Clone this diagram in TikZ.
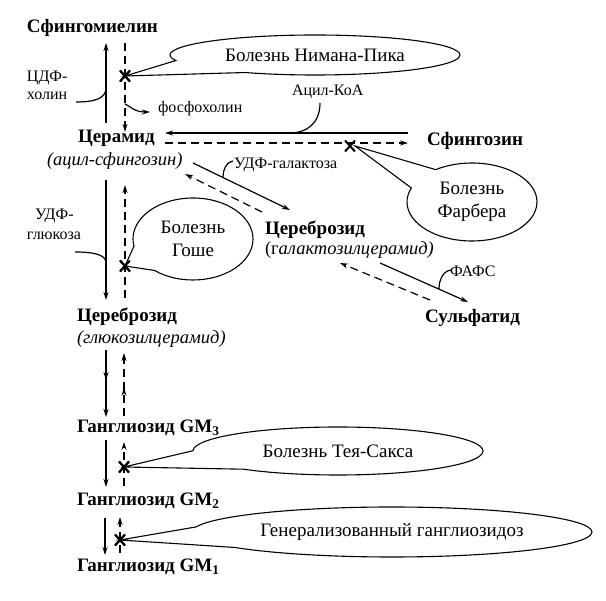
\documentclass[tikz,border=0pt]{standalone}
\usepackage{fontspec}
\setmainfont{Liberation Serif}
\usetikzlibrary{arrows.meta,shapes.callouts,shapes.misc,decorations.markings}
\begin{document}
\begin{tikzpicture}[x=1pt,y=-1pt,
  every node/.style={inner sep=0pt, outer sep=0pt},
  lab/.style={anchor=base west, font=\fontsize{19}{22}\selectfont\bfseries},
  sub/.style={anchor=base west, font=\fontsize{18.5}{22}\selectfont\itshape},
  small/.style={anchor=base west, font=\fontsize{16}{19}\selectfont},
  ln/.style={line width=1.2pt},
  arr/.style={ln, -{Stealth[length=8pt,width=5pt]}},
  darr/.style={arr, dash pattern=on 8pt off 5pt},
  midarrow/.style={postaction={decorate}, decoration={markings, mark=at position #1 with {\arrow{Stealth[length=8pt,width=5pt]}}}},
  xmk/.style={draw, cross out, line width=2pt, minimum width=10pt, minimum height=11pt},
  bubble/.style={ellipse callout, draw, fill=white, line width=1.1pt, font=\fontsize{19}{23}\selectfont, align=center, inner sep=0pt},
]
\fill[white] (0,0) rectangle (606,601);
\useasboundingbox (0,0) rectangle (606,601);

% labels
\node[lab] (sm) at (27,33) {Сфингомиелин};
\node[small] (cdf1) at (27,82) {ЦДФ-};
\node[small] (cdf2) at (27,100) {холин};
\node[small] (fph) at (158,113) {фосфохолин};
\node[small] (acyl) at (292,96) {Ацил-КоА};
\node[lab] (cer) at (78,143) {Церамид};
\node[sub] (cer2) at (47,166) {(ацил-сфингозин)};
\node[lab] (sph) at (427,146) {Сфингозин};
\node[small] (udpgal) at (234,169) {УДФ-галактоза};
\node[small] (udp1) at (35,220) {УДФ-};
\node[small] (udp2) at (27,240) {глюкоза};
\node[lab] (cbg) at (265,235) {Цереброзид};
\node[sub] (cbg2) at (265,255) {{\upshape(г}алактозилцерамид)};
\node[small] (paps) at (450,277) {ФАФС};
\node[lab] (sulf) at (425,323) {Сульфатид};
\node[lab] (cbl) at (77,322) {Цереброзид};
\node[sub] (cbl2) at (77,344) {(глюкозилцерамид)};
\node[lab] (gm3) at (77,433) {Ганглиозид GM\textsubscript{3}};
\node[lab] (gm2) at (77,506) {Ганглиозид GM\textsubscript{2}};
\node[lab] (gm1) at (77,572) {Ганглиозид GM\textsubscript{1}};

% connector end points
\coordinate (p1a) at (106,123); \coordinate (p1b) at (106,43);
\coordinate (p2a) at (125,43);  \coordinate (p2b) at (125,132);
\coordinate (c1a) at (76,102);  \coordinate (c1b) at (106,88);
\coordinate (f1a) at (125,104); \coordinate (f1b) at (150,112);
\coordinate (h1a) at (408,133); \coordinate (h1b) at (165,133);
\coordinate (k1a) at (320,103); \coordinate (k1b) at (290,133);
\coordinate (h2a) at (165,143); \coordinate (h2b) at (408,143);
\coordinate (d1a) at (193,163); \coordinate (d1b) at (290,210);
\coordinate (g1a) at (233,161); \coordinate (g1b) at (223,177);
\coordinate (d2a) at (262,212); \coordinate (d2b) at (185,174);
\coordinate (d3a) at (380,263); \coordinate (d3b) at (468,302);
\coordinate (s1a) at (451,270); \coordinate (s1b) at (439,289);
\coordinate (d4a) at (430,300); \coordinate (d4b) at (340,263);
\coordinate (v1a) at (106,180); \coordinate (v1b) at (106,300);
\coordinate (u1a) at (75,252);  \coordinate (u1b) at (106,262);
\coordinate (v2a) at (125,298); \coordinate (v2b) at (125,185);
\coordinate (v3a) at (106,350); \coordinate (v3b) at (106,417);
\coordinate (v4a) at (124,416); \coordinate (v4b) at (124,353);
\coordinate (v5a) at (106,440); \coordinate (v5b) at (106,487);
\coordinate (v6a) at (124,486); \coordinate (v6b) at (124,442);
\coordinate (v7a) at (105,518); \coordinate (v7b) at (105,555);
\coordinate (v8a) at (120,553); \coordinate (v8b) at (120,517);

% Sphingomyelin <-> Ceramide
\draw[arr] (p1a) -- (p1b);
\draw[darr] (p2a) -- (p2b);
\draw[ln] (c1a) .. controls (96,102) and (106,98) .. (c1b);
\draw[arr] (f1a) .. controls (130,106) and (134,112) .. (f1b);

% Ceramide <-> Sphingosine
\draw[arr] (h1a) -- (h1b);
\draw[ln] (k1a) .. controls (320,124) and (306,133) .. (k1b);
\draw[darr] (h2a) -- (h2b);

% Ceramide <-> galactocerebroside
\draw[arr] (d1a) -- (d1b);
\draw[ln] (g1a) .. controls (226,162) and (223,170) .. (g1b);
\draw[darr] (d2a) -- (d2b);

% galactocerebroside <-> sulfatide
\draw[arr] (d3a) -- (d3b);
\draw[ln] (s1a) .. controls (443,271) and (439,280) .. (s1b);
\draw[darr] (d4a) -- (d4b);

% Ceramide <-> glucocerebroside
\draw[arr] (v1a) -- (v1b);
\draw[ln] (u1a) .. controls (95,252) and (105,255) .. (u1b);
\draw[darr] (v2a) -- (v2b);

% glucocerebroside <-> GM3
\draw[arr, midarrow=0.45] (v3a) -- (v3b);
\draw[darr, midarrow=0.45] (v4a) -- (v4b);

% GM3 <-> GM2
\draw[arr] (v5a) -- (v5b);
\draw[darr] (v6a) -- (v6b);

% GM2 <-> GM1
\draw[arr] (v7a) -- (v7b);
\draw[darr] (v8a) -- (v8b);

% block marks
\node[xmk] (x1) at (125,76) {};
\node[xmk] (x2) at (350,146) {};
\node[xmk] (x3) at (125,266) {};
\node[xmk] (x4) at (124,467) {};
\node[xmk] (x5) at (120,540) {};

% disease callouts
\node[bubble, minimum width=290pt, minimum height=40pt, callout pointer arc=45, callout absolute pointer={(x1.center)}] (np) at (315,55) {Болезнь Нимана-Пика};
\node[bubble, minimum width=130pt, minimum height=78pt, callout pointer arc=35, callout absolute pointer={(x2.east)}] (fb) at (472,202) {Болезнь\\Фарбера};
\node[bubble, minimum width=120pt, minimum height=82pt, callout pointer arc=40, callout absolute pointer={(x3.center)}] (gs) at (193,239) {Болезнь\\Гоше};
\node[bubble, minimum width=290pt, minimum height=48pt, callout pointer arc=50, callout absolute pointer={(x4.center)}] (ts) at (338,451) {Болезнь Тея-Сакса};
\node[bubble, minimum width=400pt, minimum height=50pt, callout pointer arc=50, callout absolute pointer={(x5.center)}] (gg) at (392,532) {Генерализованный ганглиозидоз};

% redraw marks above callout tails
\node[xmk] at (x1) {};
\node[xmk] at (x3) {};
\node[xmk] at (x4) {};
\node[xmk] at (x5) {};
\end{tikzpicture}
\end{document}
